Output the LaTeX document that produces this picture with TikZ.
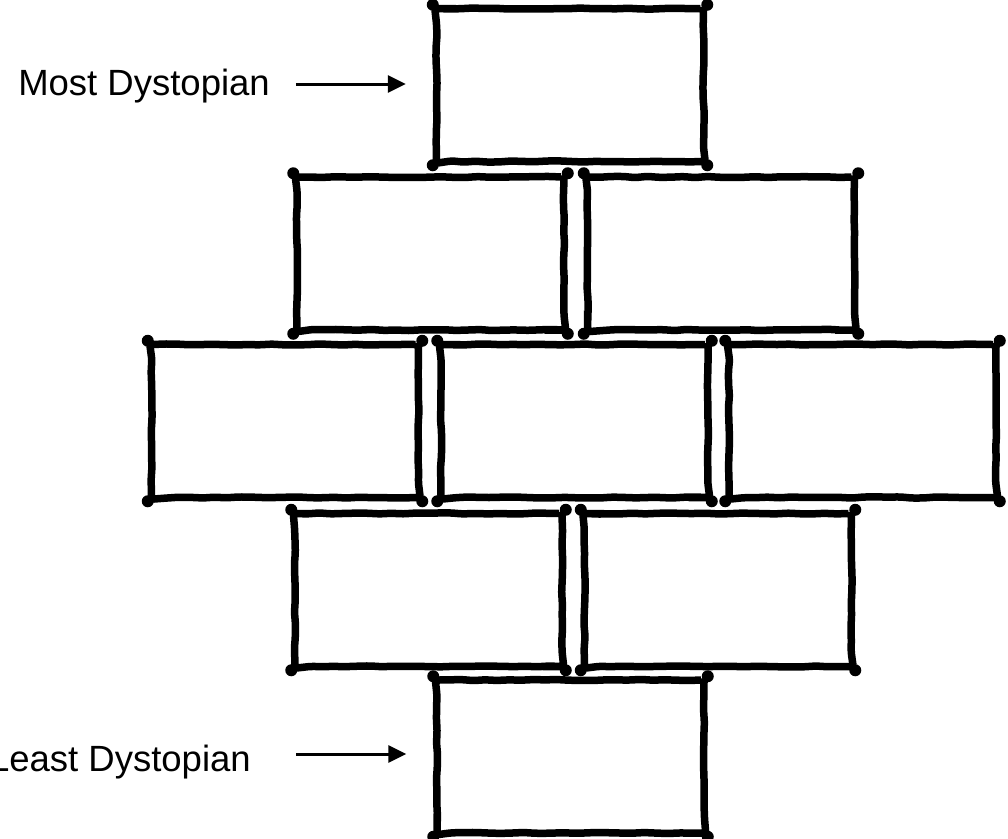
\documentclass[tikz,border=0pt]{standalone}
\usepackage{fontspec}
\setmainfont{Liberation Sans}
\usetikzlibrary{decorations.pathmorphing,arrows.meta}
\begin{document}
\begin{tikzpicture}[x=1pt,y=-1pt,
  brick/.style={draw=black, line width=7.5pt, minimum width=267pt, minimum height=153pt,
    inner sep=0pt, rounded corners=3pt, decorate,
    decoration={random steps, segment length=12pt, amplitude=0.6pt}},
  lbl/.style={font=\fontsize{36.5}{43}\selectfont, anchor=base east, inner sep=0pt},
  pointer/.style={line width=3pt, -{Triangle[length=18pt,width=17pt]}}]
\pgfmathsetseed{7}
\useasboundingbox (0,0) rectangle (1008,838);
\node[brick] (b1) at (570,85) {};
\node[brick] (b2) at (430.5,253.5) {};
\node[brick] (b3) at (721,253.5) {};
\node[brick] (b4) at (285,421) {};
\node[brick] (b5) at (574.5,421) {};
\node[brick] (b6) at (862.5,421) {};
\node[brick] (b7) at (428.5,590) {};
\node[brick] (b8) at (718,590) {};
\node[brick] (b9) at (570.5,756.5) {};
\foreach \b in {b1,b2,b3,b4,b5,b6,b7,b8,b9}{
  \foreach \c in {north west,north east,south west,south east}{
    \fill (\b.\c) circle (6pt);
  }
}
\node[lbl] (most) at (270,95) {Most Dystopian};
\node[lbl] (least) at (251,771) {Least Dystopian};
\draw[pointer] ([xshift=-137pt,yshift=1pt]b1.west) -- ([xshift=-27pt,yshift=1pt]b1.west);
\draw[pointer] ([xshift=-137pt,yshift=2.5pt]b9.west) -- ([xshift=-27pt,yshift=2.5pt]b9.west);
\end{tikzpicture}
\end{document}
